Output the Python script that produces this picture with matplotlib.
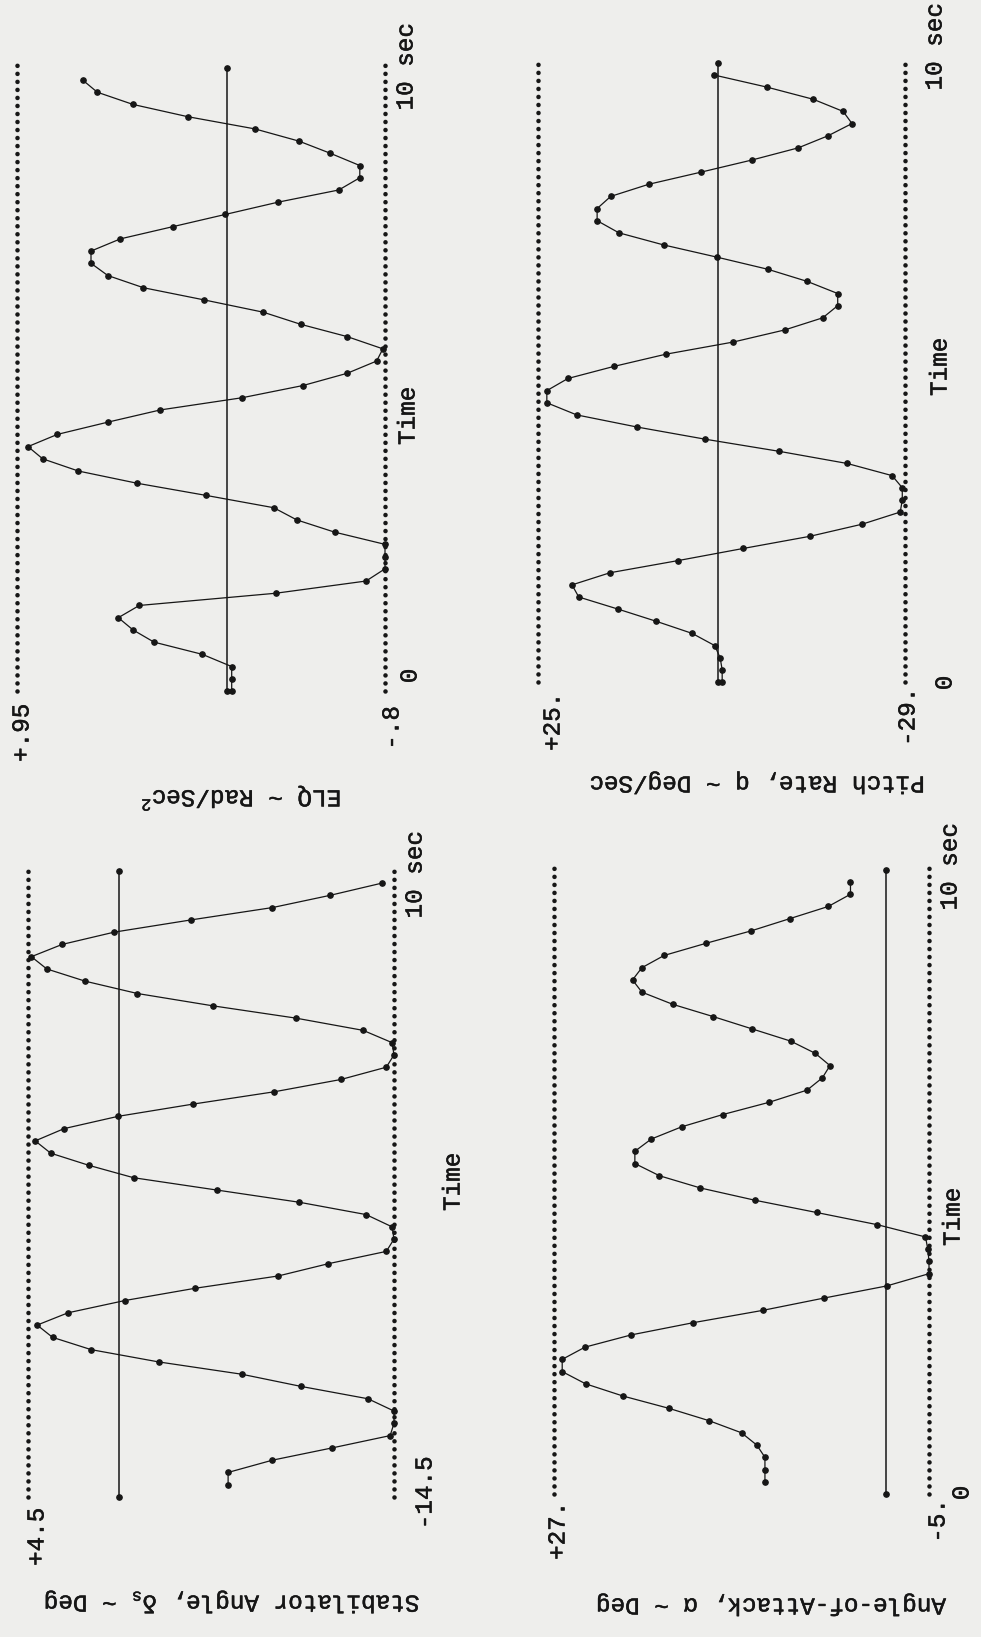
import numpy as np
import matplotlib.pyplot as plt
import matplotlib.patheffects as pe

# page size in pixels, drawn at 100 dpi
W, H = 981, 1637
DPI = 100
INK = '#161616'
PAPER = '#eeeeec'

plt.rcParams['font.family'] = ['Liberation Mono', 'DejaVu Sans Mono']
plt.rcParams['mathtext.fontset'] = 'custom'
plt.rcParams['mathtext.rm'] = 'Liberation Mono'
plt.rcParams['mathtext.it'] = 'Liberation Mono'

# one printed point every 0.2 s
t_all = np.round(np.arange(51) * 0.2, 1)    # 0 .. 10 s
t_late = t_all[1:]                          # 0.2 .. 10 s

# ELQ ~ Rad/Sec^2
elq = [-0.07, -0.07, -0.07, 0.07, 0.30, 0.40, 0.47, 0.37, -0.28, -0.71,
       -0.80, -0.80, -0.80, -0.56, -0.38, -0.27, 0.05, 0.38, 0.66, 0.83,
       0.90, 0.76, 0.52, 0.27, -0.12, -0.41, -0.62, -0.76, -0.79, -0.62,
       -0.40, -0.22, 0.06, 0.35, 0.52, 0.60, 0.60, 0.46, 0.21, -0.04,
       -0.29, -0.58, -0.68, -0.68, -0.54, -0.39, -0.18, 0.14, 0.40, 0.57,
       0.64]

# Pitch rate q ~ Deg/Sec
pitch = [-2.1, -2.1, -1.8, -1.0, 2.3, 7.6, 13.2, 19.0, 20.0, 14.4,
         4.4, -5.2, -15.0, -22.7, -28.3, -28.6, -28.6, -27.1, -20.5, -10.5,
         0.4, 10.4, 19.3, 23.7, 23.7, 20.6, 13.8, 6.2, -3.7, -11.3,
         -16.9, -19.1, -19.1, -14.6, -8.8, -1.3, 6.5, 13.1, 16.3, 16.3,
         14.3, 8.7, 1.0, -6.5, -13.3, -17.7, -21.2, -19.9, -15.5, -8.7,
         -0.9]

# Stabilator angle ~ Deg
stab = [-5.9, -5.9, -8.2, -11.3, -14.3, -14.5, -14.5, -13.15, -9.7, -6.6,
        -2.3, 1.2, 3.2, 4.0, 2.4, -0.55, -4.2, -8.5, -11.1, -14.1,
        -14.5, -14.4, -13.05, -9.6, -5.3, -1.0, 1.3, 3.3, 4.1, 2.6,
        -0.2, -4.1, -8.3, -11.75, -14.1, -14.5, -14.4, -12.9, -9.4, -5.1,
        -1.2, 1.5, 3.5, 4.3, 2.7, 0.0, -4.0, -8.2, -11.2, -13.9]

# Angle-of-attack ~ Deg
alpha = [9.0, 9.0, 9.0, 9.7, 11.0, 13.8, 17.2, 21.1, 24.3, 26.3,
         26.3, 24.35, 20.4, 15.1, 9.2, 4.0, -1.4, -5.0, -5.0, -4.9,
         -4.7, -0.6, 4.6, 9.85, 14.5, 18.0, 20.1, 20.1, 18.7, 16.1,
         12.6, 8.65, 5.4, 4.1, 3.45, 4.7, 6.8, 10.1, 13.4, 16.85,
         19.5, 20.3, 19.5, 17.6, 14.0, 10.2, 6.9, 3.6, 1.7, 1.7]

# printed scale limits (upper, lower) and the reference line
elq_lim, elq_ref = (0.95, -0.8), -0.05
pitch_lim, pitch_ref = (25.0, -29.0), -1.5
stab_lim, stab_ref = (4.5, -14.5), -0.25
alpha_lim, alpha_ref = (27.0, -5.0), -1.35

elq_ticks = ['+.95', '-.8']
pitch_ticks = ['+25.', '-29.']
stab_ticks = ['+4.5', '-14.5']
alpha_ticks = ['+27.', '-5.']

T_TOP = 10.3    # end of the dotted limit lines
T_REF = 10.2    # end of the reference line

fig = plt.figure(figsize=(W / DPI, H / DPI), dpi=DPI, facecolor=PAPER)


def strip(box, lims, ref, t, vals):
    # box: left px, right px, pixel row of t=0, pixels per second
    x0, x1, y0, pps = box
    ax = fig.add_axes([x0 / W, 1 - y0 / H, (x1 - x0) / W, T_TOP * pps / H])
    ax.set_xlim(lims)
    ax.set_ylim(0, T_TOP)
    ax.axis('off')
    for v in lims:
        ax.plot([v, v], [0, T_TOP], color=INK, lw=3.3,
                linestyle=(0, (0.01, 1.74)), dash_capstyle='round',
                clip_on=False)
    ax.plot([ref, ref], [0, T_REF], color=INK, lw=1.1, clip_on=False)
    ax.plot([ref, ref], [0, T_REF], 'o', ms=3.8, color=INK, clip_on=False)
    ax.plot(vals, t, '-', color=INK, lw=0.9, clip_on=False)
    ax.plot(vals, t, 'o', ms=3.8, color=INK, clip_on=False)
    return ax


# typewriter text, thickened slightly
ink_fx = [pe.withStroke(linewidth=0.35, foreground=INK)]


def txt(x, y, s, rot=90):
    fig.text(x / W, 1 - y / H, s, rotation=rot, ha='center', va='center',
             fontsize=17.5, color=INK, path_effects=ink_fx)


strip((17.5, 385, 691, 61.1), elq_lim, elq_ref, t_all, elq)
strip((538, 905, 682, 60.7), pitch_lim, pitch_ref, t_all, pitch)
strip((27.5, 394, 1497, 61.4), stab_lim, stab_ref, t_late, stab)
strip((554, 929, 1494, 61.2), alpha_lim, alpha_ref, t_late, alpha)

# ELQ strip (top left)
txt(22, 733, elq_ticks[0])
txt(392, 728, elq_ticks[1])
txt(410, 676, '0')
txt(406, 67, '10 sec')
txt(408, 416, 'Time')
txt(241, 798, r'ELQ ~ Rad/Sec$^{2}$', rot=180)

# pitch rate strip (top right)
txt(553, 722, pitch_ticks[0])
txt(908, 717, pitch_ticks[1])
txt(945, 683, '0')
txt(935, 47, '10 sec')
txt(940, 367, 'Time')
txt(758, 783, 'Pitch Rate, q ~ Deg/Sec', rot=180)

# stabilator strip (bottom left)
txt(37, 1537, stab_ticks[0])
txt(425, 1493, stab_ticks[1])
txt(415, 875, '10 sec')
txt(453, 1182, 'Time')
txt(232, 1602, r'Stabilator Angle, δ$_{s}$ ~ Deg', rot=180)

# angle-of-attack strip (bottom right)
txt(558, 1531, alpha_ticks[0])
txt(938, 1521, alpha_ticks[1])
txt(962, 1493, '0')
txt(950, 867, '10 sec')
txt(953, 1217, 'Time')
txt(772, 1605, 'Angle-of-Attack, α ~ Deg', rot=180)

fig.savefig('out.png', dpi=DPI, facecolor=PAPER)
